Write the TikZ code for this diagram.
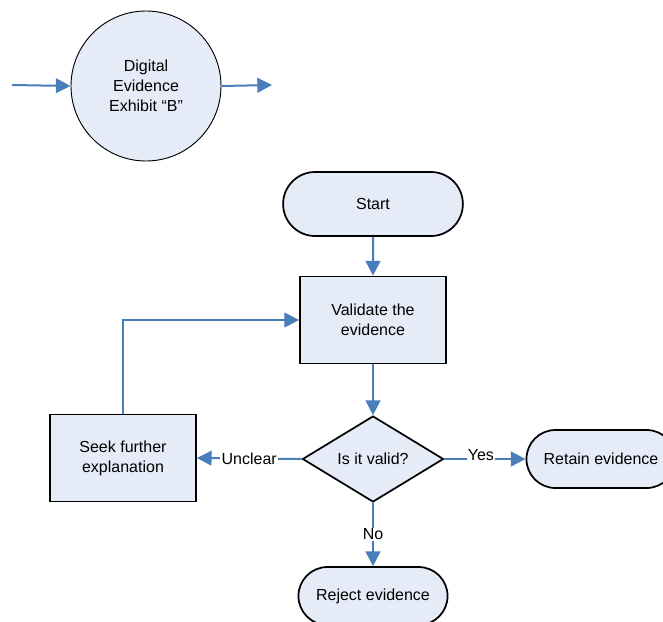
\documentclass[tikz,border=0pt]{standalone}
\usepackage{fontspec}
\setmainfont{Liberation Sans}
\usetikzlibrary{arrows.meta,shapes.geometric,shapes.misc}
\definecolor{boxfill}{HTML}{E6ECF7}
\definecolor{flowblue}{HTML}{4A7EBB}
\begin{document}
\begin{tikzpicture}[x=0.75pt,y=-0.75pt,
	font=\fontsize{12}{15}\selectfont,
	>={Triangle[length=11pt,width=11pt]},
	flow/.style={->,draw=flowblue,line width=1.5pt},
	exhibit/.style={circle,draw,fill=boxfill,line width=0.7pt,minimum size=112.5pt,align=center},
	terminal/.style={rounded rectangle,draw,fill=boxfill,line width=1.3pt,align=center},
	process/.style={rectangle,draw,fill=boxfill,line width=1.3pt,minimum width=109.5pt,minimum height=65.25pt,align=center},
	decision/.style={diamond,draw,fill=boxfill,line width=1.3pt,aspect=1.6,inner sep=0pt,minimum width=105.75pt,minimum height=64.5pt},
	edgelabel/.style={fill=white,inner sep=1pt}]
	\useasboundingbox (0,0) rectangle (663,621);
	% exhibit
	\coordinate (in) at (12,85);
	\coordinate (out) at (272,85);
	\node[exhibit] (exhibitB) at (146,86) {Digital\\Evidence\\Exhibit ``B''};
	\draw[flow] (in)--(exhibitB.west);
	\draw[flow] (exhibitB.east)--(out);
	% flowchart
	\node[terminal,minimum width=141.5pt,minimum height=48pt] (start) at (373,204) {Start};
	\node[process] (validate) at (373,320) {Validate the\\evidence};
	\node[decision] (valid) at (373,459) {Is it valid?};
	\node[process] (seek) at (123,458) {Seek further\\explanation};
	\node[terminal,minimum width=118.5pt,minimum height=43.5pt] (retain) at (601,459) {Retain evidence};
	\node[terminal,minimum width=118.5pt,minimum height=43.5pt] (reject) at (373,596) {Reject evidence};
	\draw[flow] (start)--(validate);
	\draw[flow] (validate)--(valid);
	\draw[flow] (valid.west)--(seek.east) node[edgelabel,midway] {Unclear};
	\draw[flow] (valid.east)--(retain.west) node[edgelabel,pos=0.45,yshift=3pt] {Yes};
	\draw[flow] (valid.south)--(reject.north) node[edgelabel,midway] {No};
	\draw[flow] (seek.north) |- (validate.west);
\end{tikzpicture}
\end{document}
